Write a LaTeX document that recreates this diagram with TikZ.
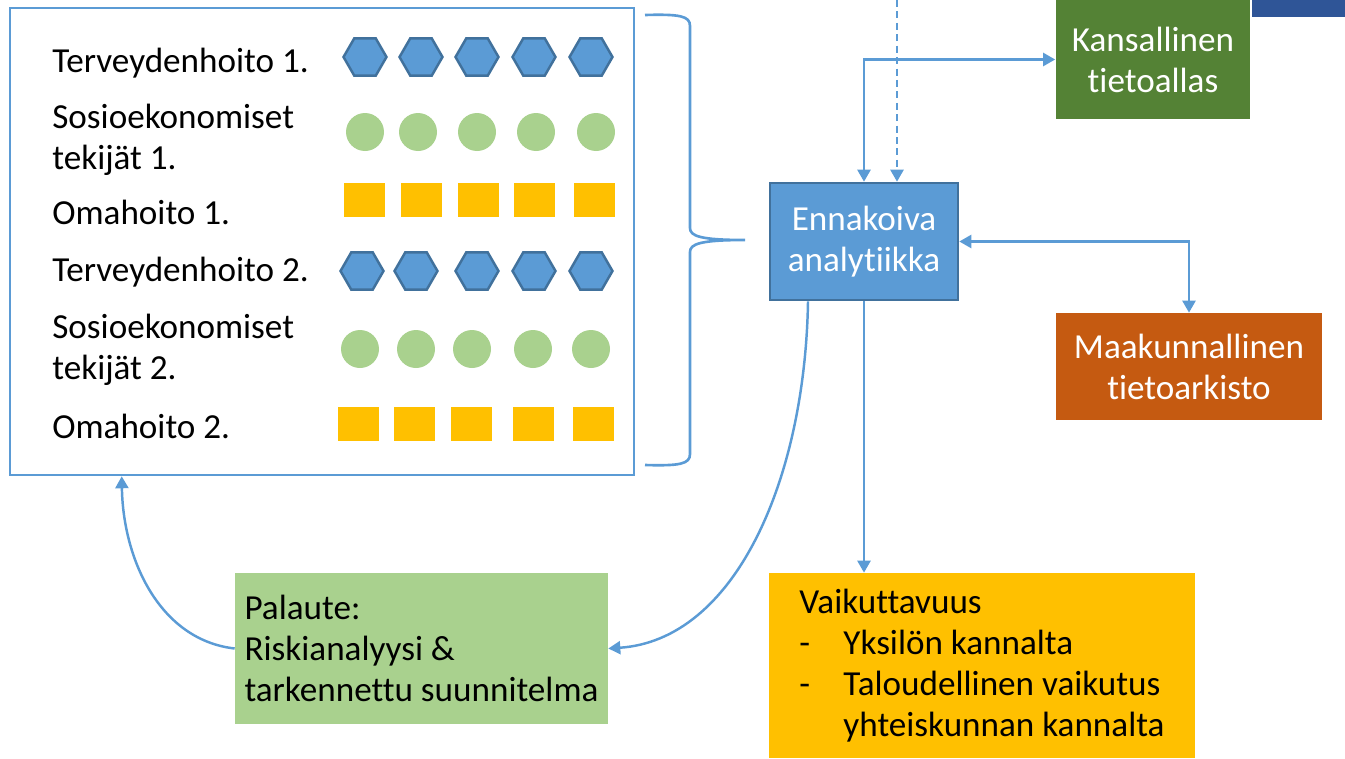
\documentclass[tikz,border=0pt]{standalone}
\usepackage{fontspec}
\setmainfont[Ligatures={NoCommon}]{Carlito}
\usetikzlibrary{shapes.geometric, arrows.meta, positioning}

\definecolor{lineblue}{HTML}{5B9BD5}
\definecolor{edgeblue}{HTML}{41719C}
\definecolor{leafgreen}{HTML}{A9D18E}
\definecolor{darkgreen}{HTML}{548235}
\definecolor{amber}{HTML}{FFC000}
\definecolor{rust}{HTML}{C55A11}
\definecolor{navy}{HTML}{2F5597}

\begin{document}
\begin{tikzpicture}[
  x=0.02cm, y=-0.02cm,
  txt/.style={font=\fontsize{20}{23.3}\selectfont},
  label/.style={txt, inner sep=0pt, align=left, anchor=base west},
  comp/.style={txt, rectangle, minimum width=#1, align=center, text=white, inner sep=2pt},
  hexa/.style={regular polygon, regular polygon sides=6, minimum size=0.86cm, inner sep=0pt, fill=lineblue, draw=edgeblue, line width=1.4pt},
  dot/.style={circle, minimum size=0.76cm, inner sep=0pt, fill=leafgreen},
  blk/.style={rectangle, minimum width=0.82cm, minimum height=0.68cm, inner sep=0pt, fill=amber},
  arrow/.style={-{Triangle[length=2.4mm, width=2.6mm]}, draw=lineblue, line width=1.4pt},
  both/.style={{Triangle[length=2.4mm, width=2.6mm]}-{Triangle[length=2.4mm, width=2.6mm]}, draw=lineblue, line width=1.4pt}
]
\useasboundingbox (0,0) rectangle (1345,758);

% data sources
\node[draw=lineblue, line width=1.5pt, minimum width=12.48cm, minimum height=9.34cm] (data) at (322, 241.5) {};

\node[label] (terv1) at (52, 72) {Terveydenhoito 1.};
\node[label, anchor=west] (sosio1) at (52, 140) {Sosioekonomiset\\tekijät 1.};
\node[label] (oma1) at (52, 224) {Omahoito 1.};
\node[label] (terv2) at (52, 281) {Terveydenhoito 2.};
\node[label, anchor=west] (sosio2) at (52, 350) {Sosioekonomiset\\tekijät 2.};
\node[label] (oma2) at (52, 438) {Omahoito 2.};

\foreach \x [count=\i] in {365, 421, 477, 534, 591}
  \node[hexa] (hexa1-\i) at (\x, 57) {};
\foreach \x [count=\i] in {365, 418, 477, 536, 596}
  \node[dot] (dot1-\i) at (\x, 132) {};
\foreach \x [count=\i] in {364, 421, 478, 534, 594}
  \node[blk] (blk1-\i) at (\x, 200) {};
\foreach \x [count=\i] in {362, 416, 477, 534, 591}
  \node[hexa] (hexa2-\i) at (\x, 271) {};
\foreach \x [count=\i] in {360, 416, 472, 533, 591}
  \node[dot] (dot2-\i) at (\x, 349) {};
\foreach \x [count=\i] in {358, 414, 471, 533, 593}
  \node[blk] (blk2-\i) at (\x, 424) {};

% brace
\coordinate (bracetip) at (745, 240);
\draw[lineblue, line width=1.5pt] (645, 15) .. controls (680, 14) and (690, 16) .. (690, 26)
  -- (690, 228) .. controls (690, 236) and (700, 240) .. (bracetip)
  .. controls (700, 240) and (690, 244) .. (690, 252)
  -- (690, 454) .. controls (690, 464) and (680, 466) .. (645, 465);

% analytics and stores
\node[comp=3.76cm, minimum height=2.34cm, fill=lineblue, draw=edgeblue, line width=1.5pt] (ennak) at (864, 241.5) {Ennakoiva\\analytiikka};
\node[comp=3.9cm, minimum height=2.38cm, fill=darkgreen] (kansa) at (1153, 59.5) {Kansallinen\\tietoallas};
\node[comp=5.32cm, minimum height=2.14cm, fill=rust] (maak) at (1189, 366.5) {Maakunnallinen\\tietoarkisto};
\fill[navy] (1252, 0) rectangle (1345, 17);

\node[txt, rectangle, minimum width=7.46cm, minimum height=3.02cm, align=left, fill=leafgreen, inner sep=2pt] (palaute) at (421.5, 648.5) {Palaute:\\Riskianalyysi \&\\tarkennettu suunnitelma};
\node[txt, rectangle, minimum width=8.52cm, minimum height=3.7cm, align=left, fill=amber, inner sep=2pt] (vaik) at (982, 665.5) {Vaikuttavuus\\\makebox[0.88cm][l]{-}Yksilön kannalta\\\makebox[0.88cm][l]{-}Taloudellinen vaikutus\\\hspace*{0.88cm}yhteiskunnan kannalta};

% connectors
\coordinate (feed) at (897, 0);
\draw[arrow, dashed, dash pattern=on 4pt off 2.5pt] (feed) -- (feed |- ennak.north);
\draw[both] (kansa.west) -| (ennak.north);
\draw[both] (ennak.east) -| (maak.north);
\draw[arrow] (ennak.south) -- (ennak.south |- vaik.north);
\draw[arrow] ([xshift=-1.12cm]ennak.south) .. controls (805, 480) and (735, 640) .. (palaute.east);
\draw[arrow] (palaute.west) .. controls (160, 640) and (123, 560) .. ([xshift=2.26cm]data.south west);

\end{tikzpicture}
\end{document}
